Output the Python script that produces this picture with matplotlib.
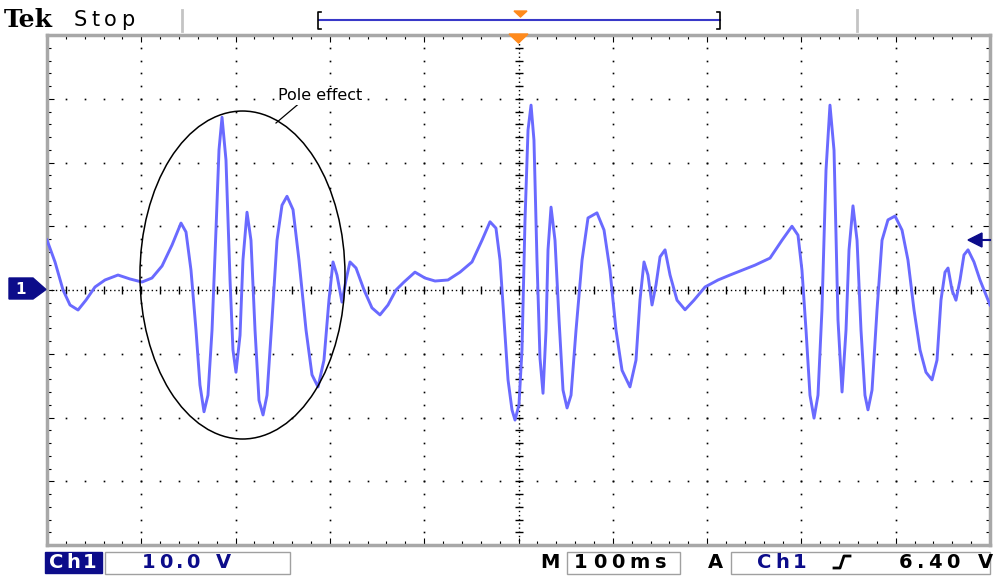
import numpy as np
import matplotlib
matplotlib.use("Agg")
import matplotlib.pyplot as plt
from matplotlib.patches import Ellipse, Polygon, Rectangle

# scope settings
volts_per_div = 10.0
ms_per_div = 100.0
trig_level = 6.40

# captured trace: time (ms), voltage (V)
t_ms = [0.0, 8.5, 17.0, 24.4, 32.9, 41.4, 50.9, 61.5, 75.3, 88.0,
        100.7, 111.3, 122.0, 132.6, 142.1, 147.4, 152.7, 158.0, 162.2, 166.5,
        170.7, 175.0, 179.2, 182.4, 185.6, 189.8, 194.1, 197.2, 200.4, 204.7,
        207.8, 212.1, 216.3, 220.6, 224.8, 229.1, 233.3, 238.6, 243.9, 249.2,
        254.5, 260.9, 267.2, 274.7, 281.0, 287.4, 293.7, 299.0, 303.3, 307.5,
        312.8, 317.1, 321.3, 327.7, 336.2, 344.6, 353.1, 361.6, 370.1, 378.6,
        390.2, 400.8, 411.5, 425.2, 438.0, 450.7, 461.3, 469.8, 476.1, 480.4,
        484.6, 488.9, 493.1, 496.3, 500.5, 503.7, 506.9, 510.1, 513.3, 516.4,
        519.6, 522.8, 526.0, 529.2, 531.3, 534.5, 538.7, 543.0, 547.2, 551.5,
        555.7, 561.0, 567.4, 573.7, 583.2, 590.7, 597.0, 603.4, 609.8, 618.2,
        624.6, 628.8, 633.1, 637.3, 641.6, 645.8, 650.1, 655.4, 660.7, 668.1,
        676.6, 686.1, 697.8, 711.6, 724.3, 737.0, 750.8, 766.7, 779.4, 790.0,
        796.4, 800.6, 804.9, 809.1, 813.4, 817.6, 821.8, 826.1, 830.3, 834.6,
        838.8, 843.1, 847.3, 850.5, 854.7, 859.0, 863.2, 867.4, 870.6, 874.9,
        880.2, 885.5, 891.8, 899.3, 906.7, 913.0, 919.4, 925.8, 932.1, 938.5,
        943.8, 948.0, 952.3, 955.5, 959.7, 963.9, 968.2, 972.4, 976.7, 983.0,
        989.4, 995.8, 1000.0]
v_volts = [7.84, 4.39, 0.0, -2.35, -3.14, -1.57, 0.47, 1.57, 2.35, 1.73,
           1.25, 1.88, 3.77, 7.06, 10.5, 9.1, 3.1, -6.3, -14.9, -19.1,
           -16.5, -6.3, 9.4, 22.0, 27.1, 20.4, 1.57, -9.4, -12.9, -7.1,
           4.7, 12.2, 7.8, -6.3, -17.3, -19.6, -16.5, -4.7, 7.8, 13.3,
           14.7, 12.6, 4.7, -6.3, -13.3, -15.2, -11.0, -1.6, 4.4, 2.35,
           -1.9, 1.57, 4.4, 3.45, 0.0, -2.8, -3.9, -2.35, 0.0, 1.25,
           2.8, 1.88, 1.41, 1.57, 2.8, 4.4, 7.8, 10.7, 9.7, 4.7,
           -4.7, -14.1, -18.8, -20.4, -18.0, -9.4, 11.0, 25.1, 29.0, 23.5,
           4.7, -10.7, -16.2, -6.3, 6.3, 13.0, 7.8, -4.7, -15.7, -18.5,
           -16.5, -6.3, 4.7, 11.3, 12.1, 9.4, 3.1, -6.3, -12.6, -15.2,
           -11.0, -1.6, 4.4, 2.35, -2.35, 0.8, 5.2, 6.3, 2.35, -1.6,
           -3.1, -1.6, 0.47, 1.57, 2.35, 3.1, 3.9, 5.0, 7.8, 10.0,
           8.6, 3.1, -6.3, -16.5, -20.1, -16.5, -3.1, 18.8, 29.0, 21.9,
           -4.7, -16.0, -6.3, 6.3, 13.2, 7.8, -6.3, -16.5, -18.8, -15.7,
           -3.1, 7.8, 11.0, 11.6, 9.4, 4.7, -3.1, -9.4, -12.9, -14.1,
           -11.0, -1.6, 2.8, 3.45, 0.0, -1.6, 1.57, 5.5, 6.3, 4.4,
           1.57, -0.8, -2.35]

NAVY = "#0c0c8a"
TRACE = "#6a6aff"
ORANGE = "#ff8a1c"

W, H = 995, 576
fig = plt.figure(figsize=(W / 100, H / 100), dpi=100)

# graticule area (pixel box 47..990 x 35..545)
ax = fig.add_axes([47 / W, 31 / H, 943 / W, 510 / H])
ax.set_xlim(0, 10)
ax.set_ylim(-4, 4)
ax.set_xticks(np.arange(0, 10.01, 1))
ax.set_xticks(np.arange(0, 10.01, 0.2), minor=True)
ax.set_yticks(np.arange(-4, 4.01, 1))
ax.set_yticks(np.arange(-4, 4.01, 0.2), minor=True)
ax.tick_params(which="both", direction="in", top=True, right=True,
               labelbottom=False, labelleft=False, color="black", width=0.8)
ax.tick_params(which="major", length=5)
ax.tick_params(which="minor", length=3)
for s in ax.spines.values():
    s.set_color("#a8a8a8")
    s.set_linewidth(2.5)

# dotted grid
sub_y = np.arange(-4, 4.01, 0.2)
sub_x = np.arange(0, 10.01, 0.2)
for xi in range(1, 10):
    if xi == 5:
        continue
    ax.plot(np.full_like(sub_y, xi), sub_y, ls="none", marker="s",
            ms=1.2, color="black", mec="none")
for yi in range(-3, 4):
    if yi == 0:
        continue
    ax.plot(sub_x, np.full_like(sub_x, yi), ls="none", marker="s",
            ms=1.2, color="black", mec="none")

# centre axes with tick marks
ax.axhline(0, color="black", lw=1, ls=(0, (1, 2)))
ax.axvline(5, color="black", lw=1, ls=(0, (1, 2)))
ax.plot(sub_x, np.zeros_like(sub_x), ls="none", marker="|", ms=6,
        mew=1, color="black")
ax.plot(np.full_like(sub_y, 5), sub_y, ls="none", marker="_", ms=6,
        mew=1, color="black")

# trace
ax.plot(np.array(t_ms) / ms_per_div, np.array(v_volts) / volts_per_div,
        color=TRACE, lw=2.1, zorder=5)

# annotation ellipse
ax.add_patch(Ellipse((2.073, 0.235), 2.174, 5.145, fill=False,
                     ec="black", lw=1.1, zorder=6))

# overlay in pixel coords for the screen furniture
ov = fig.add_axes([0, 0, 1, 1], facecolor="none")
ov.set_xlim(0, W)
ov.set_ylim(H, 0)
ov.axis("off")

CHAR_W = {".": 0.6, " ": 0.8, "m": 1.3, "t": 0.8, "1": 1.0}


def spaced(x, y, s, pitch, **kw):
    # readout-style lettering: one glyph at a time on a wide pitch
    prev = None
    for ch in s:
        w = CHAR_W.get(ch, 1.0)
        if prev is not None:
            x += pitch * (prev + w) / 2
        ov.text(x, y, ch, ha="center", va="center", **kw)
        prev = w


ov.text(278, 96, "Pole effect", fontsize=11.5, family="DejaVu Sans",
        va="center", ha="left", color="black",
        bbox=dict(fc="white", ec="none", pad=1))
ov.plot([302, 276], [101, 123], color="black", lw=0.9)

# header
ov.text(4, 20, "Tek", fontsize=18, family="DejaVu Serif",
        weight="bold", va="center", ha="left")
spaced(80, 20, "Stop", 17, fontsize=15, family="DejaVu Sans")
ov.plot([182, 182], [10, 31], color="#c4c4c4", lw=2)
ov.plot([857, 857], [10, 31], color="#c4c4c4", lw=2)
ov.plot([319, 720], [20, 20], color="#3838c8", lw=1.5)
ov.plot([321, 318, 318, 321], [12, 12, 29, 29], color="black", lw=1.2)
ov.plot([717, 720, 720, 717], [12, 12, 29, 29], color="black", lw=1.2)
ov.add_patch(Polygon([[514, 11], [527, 11], [520.5, 17]], color=ORANGE))
ov.add_patch(Polygon([[509, 34], [528, 34], [518.5, 43]], color=ORANGE,
                     zorder=10))

# channel marker and trigger level arrow
ov.add_patch(Polygon([[9, 278], [33, 278], [46, 289.5], [33, 299], [9, 299]],
                     color=NAVY))
ov.text(21, 289, "1", color="white", fontsize=11, weight="bold",
        ha="center", va="center", family="DejaVu Sans")
lvl_y = 240
ov.add_patch(Polygon([[968, lvl_y], [982, lvl_y - 7], [982, lvl_y + 7]],
                     color=NAVY))
ov.plot([981, 990], [lvl_y, lvl_y], color=NAVY, lw=1.5)

# footer readouts
fkw = dict(fontsize=14, weight="bold", family="DejaVu Sans")
ov.add_patch(Rectangle((45, 552), 57, 21, color=NAVY))
spaced(56, 562, "Ch1", 17, color="white", **fkw)
ov.add_patch(Rectangle((105, 552), 185, 22, fill=False, ec="#a0a0a0", lw=1))
spaced(149, 562, "%.1f V" % volts_per_div, 17, color=NAVY, **fkw)
ov.text(550, 562, "M", ha="center", va="center", **fkw)
ov.add_patch(Rectangle((567, 552), 113, 22, fill=False, ec="#a0a0a0", lw=1))
spaced(581, 562, "%dms" % ms_per_div, 18.5, color="black", **fkw)
ov.text(715, 562, "A", ha="center", va="center", **fkw)
ov.add_patch(Rectangle((731, 552), 259, 22, fill=False, ec="#a0a0a0", lw=1))
spaced(764, 562, "Ch1", 18, color=NAVY, **fkw)
ov.plot([834, 840, 844, 850], [568, 568, 556, 556], color="black", lw=2)
spaced(906, 562, "%.2f V" % trig_level, 18, color="black", **fkw)

fig.savefig("out.png", dpi=100)
